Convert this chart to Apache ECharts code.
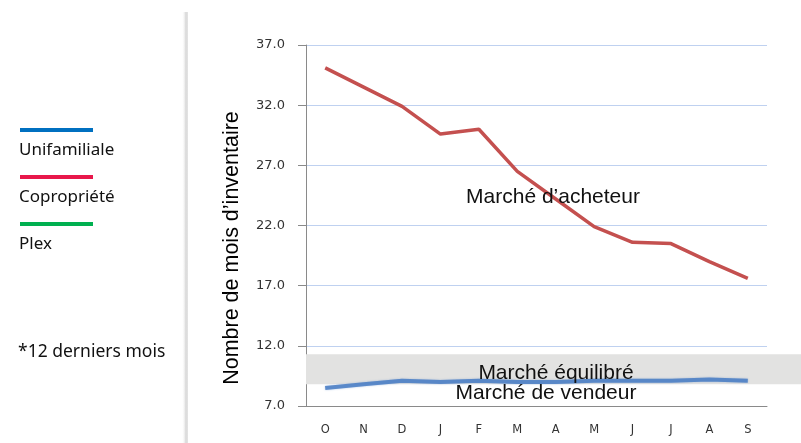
<!DOCTYPE html>
<html><head><meta charset="utf-8">
<script src="https://cdn.jsdelivr.net/npm/echarts@6/dist/echarts.min.js"></script>
<style>html,body{margin:0;padding:0;background:#fff}#c{width:801px;height:443px}</style>
</head><body><div id="c"></div>
<script>
const months = ['O','N','D','J','F','M','A','M','J','J','A','S'];
const unifamiliale = [8.5, 8.8, 9.1, 9.0, 9.1, 9.0, 9.0, 9.1, 9.1, 9.1, 9.2, 9.1];
const copropriete = [35.1, 33.5, 31.9, 29.6, 30.0, 26.5, 24.2, 21.9, 20.6, 20.5, 19.0, 17.6];
const yTicks = [7, 12, 17, 22, 27, 32, 37];
const bandLow = 8.8, bandHigh = 11.3;
const legendItems = [['Unifamiliale','#0070C0'],['Copropriété','#E8174B'],['Plex','#00B050']];
const yTitle = 'Nombre de mois d\u2019inventaire';

const chart = echarts.init(document.getElementById('c'));
const graphics = [];
graphics.push({type:'rect', shape:{x:182,y:12,width:6,height:431}, style:{fill:new echarts.graphic.LinearGradient(0,0,1,0,[{offset:0,color:'rgba(255,255,255,0)'},{offset:0.6,color:'rgba(205,205,205,0.7)'},{offset:1,color:'rgba(228,228,228,1)'}])}, silent:true});
const sideFont = '17px "Noto Sans", Lato, sans-serif';
legendItems.forEach((it,i)=>{
  graphics.push({type:'rect', shape:{x:20,y:128+i*47,width:73,height:4}, style:{fill:it[1]}});
  graphics.push({type:'text', x:19, y:150+i*47, style:{text:it[0], fill:'#111', font:sideFont, verticalAlign:'middle'}});
});
graphics.push({type:'text', x:18, y:352, style:{text:'*12 derniers mois', fill:'#111', font:'17.5px "Noto Sans", Lato, sans-serif', verticalAlign:'middle'}});
const annFont = '21px "Liberation Sans", Arial, sans-serif';
graphics.push({type:'text', x:553, y:197, z:100, style:{text:'Marché d\u2019acheteur', fill:'#111', font:annFont, align:'center', verticalAlign:'middle'}});
graphics.push({type:'text', x:556, y:373, z:100, style:{text:'Marché équilibré', fill:'#111', font:annFont, align:'center', verticalAlign:'middle'}});
graphics.push({type:'text', x:546, y:393, z:100, style:{text:'Marché de vendeur', fill:'#111', font:annFont, align:'center', verticalAlign:'middle'}});
graphics.push({type:'text', x:232, y:248, rotation:Math.PI/2, style:{text:yTitle, fill:'#000', font:'21.5px "Liberation Sans", Arial, sans-serif', align:'center', verticalAlign:'middle'}});

chart.setOption({
  animation:false,
  textStyle:{fontFamily:'"Liberation Sans", Arial, sans-serif'},
  grid:[
    {left:306, right:34, top:45, bottom:37},
    {left:306, right:0, top:45, bottom:37}
  ],
  xAxis:[
    {type:'category', data:months, gridIndex:0, boundaryGap:true,
     axisLine:{lineStyle:{color:'#8a8a8a'}}, axisTick:{length:5, lineStyle:{color:'#8a8a8a'}},
     axisLabel:{margin:18, fontSize:11.5, color:'#333', fontFamily:'"DejaVu Sans", sans-serif'}},
    {type:'value', gridIndex:1, min:0, max:1, show:false}
  ],
  yAxis:[
    {type:'value', gridIndex:0, min:7, max:37, interval:5,
     axisLine:{show:true, lineStyle:{color:'#8a8a8a'}}, axisTick:{show:true, length:8, lineStyle:{color:'#8a8a8a'}},
     axisLabel:{margin:21, color:'#333', fontSize:13, fontFamily:'"DejaVu Sans", sans-serif', formatter:v=>yTicks.includes(v)?v.toFixed(1):''},
     splitLine:{lineStyle:{color:'#BFD1F0', width:1}}},
    {type:'value', gridIndex:1, min:7, max:37, show:false}
  ],
  series:[
    {type:'line', xAxisIndex:1, yAxisIndex:1, data:[[0,7]], symbol:'none', lineStyle:{opacity:0}, z:1, silent:true,
     markArea:{silent:true, itemStyle:{color:'#E2E2E1'}, data:[[{yAxis:bandLow},{yAxis:bandHigh}]]}},
    {name:'Unifamiliale', type:'line', data:unifamiliale, symbol:'none', z:3,
     lineStyle:{color:'#4A7EC4', width:4, opacity:0.85, shadowBlur:2, shadowColor:'rgba(74,126,196,0.5)'}},
    {name:'Copropriété', type:'line', data:copropriete, symbol:'none', z:3,
     lineStyle:{color:'#C4504F', width:3.5}}
  ],
  graphic:graphics
});
</script></body></html>
